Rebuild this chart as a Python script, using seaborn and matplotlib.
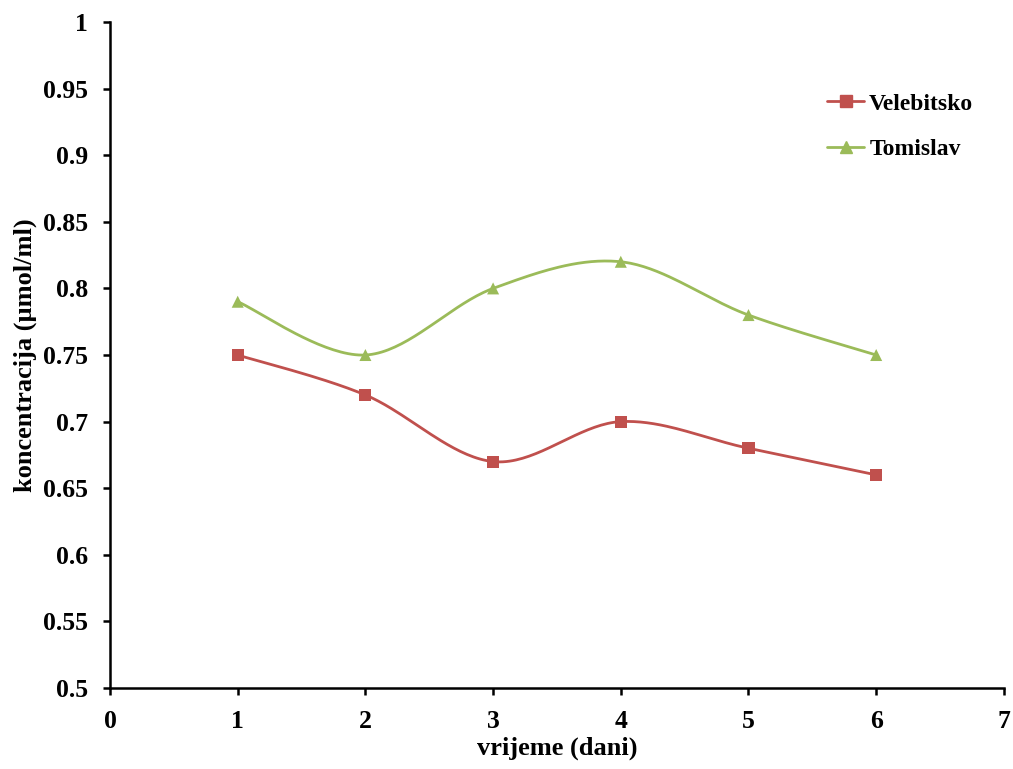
import numpy as np
import pandas as pd
import matplotlib
matplotlib.use("Agg")
import matplotlib.pyplot as plt
import seaborn as sns

days = [1, 2, 3, 4, 5, 6]
velebitsko = [0.75, 0.72, 0.67, 0.70, 0.68, 0.66]
tomislav = [0.79, 0.75, 0.80, 0.82, 0.78, 0.75]
series_names = ["Velebitsko", "Tomislav"]
colors = {"Velebitsko": "#C0504D", "Tomislav": "#9BBB59"}
markers = {"Velebitsko": "s", "Tomislav": "^"}

sns.set_theme(style="white")
plt.rcParams['font.family'] = ['Liberation Serif', 'DejaVu Serif']
plt.rcParams['font.weight'] = 'bold'
plt.rcParams['text.color'] = 'black'
plt.rcParams['axes.labelcolor'] = 'black'
plt.rcParams['xtick.color'] = 'black'
plt.rcParams['ytick.color'] = 'black'


def excel_smooth(x, y, n=40):
    # Excel-like smoothed line: cubic Bezier segments, Catmull-Rom control points
    x = np.asarray(x, float); y = np.asarray(y, float)
    px, py = [], []
    t = np.linspace(0, 1, n)
    k = len(x)
    for i in range(k - 1):
        x0, y0 = (x[i - 1], y[i - 1]) if i > 0 else (x[i], y[i])
        x3, y3 = (x[i + 2], y[i + 2]) if i + 2 < k else (x[i + 1], y[i + 1])
        c1x = x[i] + (x[i + 1] - x0) / 6; c1y = y[i] + (y[i + 1] - y0) / 6
        c2x = x[i + 1] - (x3 - x[i]) / 6; c2y = y[i + 1] - (y3 - y[i]) / 6
        bx = (1 - t) ** 3 * x[i] + 3 * (1 - t) ** 2 * t * c1x + 3 * (1 - t) * t ** 2 * c2x + t ** 3 * x[i + 1]
        by = (1 - t) ** 3 * y[i] + 3 * (1 - t) ** 2 * t * c1y + 3 * (1 - t) * t ** 2 * c2y + t ** 3 * y[i + 1]
        px.extend(bx); py.extend(by)
    return np.array(px), np.array(py)


fig = plt.figure(figsize=(10.13, 7.69), dpi=100)
ax = fig.add_axes([0.1086, 0.1053, 0.8824, 0.8661])

df = pd.DataFrame({"day": days * 2,
                   "val": velebitsko + tomislav,
                   "series": [series_names[0]] * 6 + [series_names[1]] * 6})

for name, vals in zip(series_names, [velebitsko, tomislav]):
    sx, sy = excel_smooth(days, vals)
    ax.plot(sx, sy, color=colors[name], lw=2.0, zorder=2)

sns.scatterplot(data=df, x="day", y="val", hue="series", style="series",
                palette=colors, markers=markers, s=75, edgecolor="none",
                ax=ax, legend=False, zorder=3)

ax.set_xlim(0, 7)
ax.set_ylim(0.5, 1.0)
ax.set_xticks(range(0, 8))
ax.set_yticks(np.arange(0.5, 1.001, 0.05))
ax.set_xticklabels([str(i) for i in range(0, 8)])
ax.set_yticklabels(["0.5", "0.55", "0.6", "0.65", "0.7", "0.75", "0.8", "0.85", "0.9", "0.95", "1"])
for s in ["top", "right"]:
    ax.spines[s].set_visible(False)
for s in ["left", "bottom"]:
    ax.spines[s].set_color("black")
    ax.spines[s].set_linewidth(1.8)
ax.tick_params(axis="both", direction="out", length=5, width=1.8, color="black",
               labelcolor="black", labelsize=18.5, bottom=True, left=True)
ax.tick_params(axis="x", pad=10.5)
ax.tick_params(axis="y", pad=11)
for lab in ax.get_xticklabels() + ax.get_yticklabels():
    lab.set_fontweight("bold")
ax.set_xlabel("vrijeme (dani)", fontsize=19, fontweight="bold", labelpad=3, color="black")
ax.set_ylabel("koncentracija (µmol/ml)", fontsize=19, fontweight="bold", labelpad=4, color="black")

from matplotlib.lines import Line2D
handles = [Line2D([], [], color=colors[n], marker=markers[n], lw=2.0, markersize=8) for n in series_names]
ax.legend(handles, series_names, loc="upper left", bbox_to_anchor=(0.778, 0.925),
          frameon=False, prop={"weight": "bold", "size": 17}, labelspacing=1.0,
          handlelength=1.6, handletextpad=0.2, labelcolor="black")

fig.savefig("out.png", dpi=100)
